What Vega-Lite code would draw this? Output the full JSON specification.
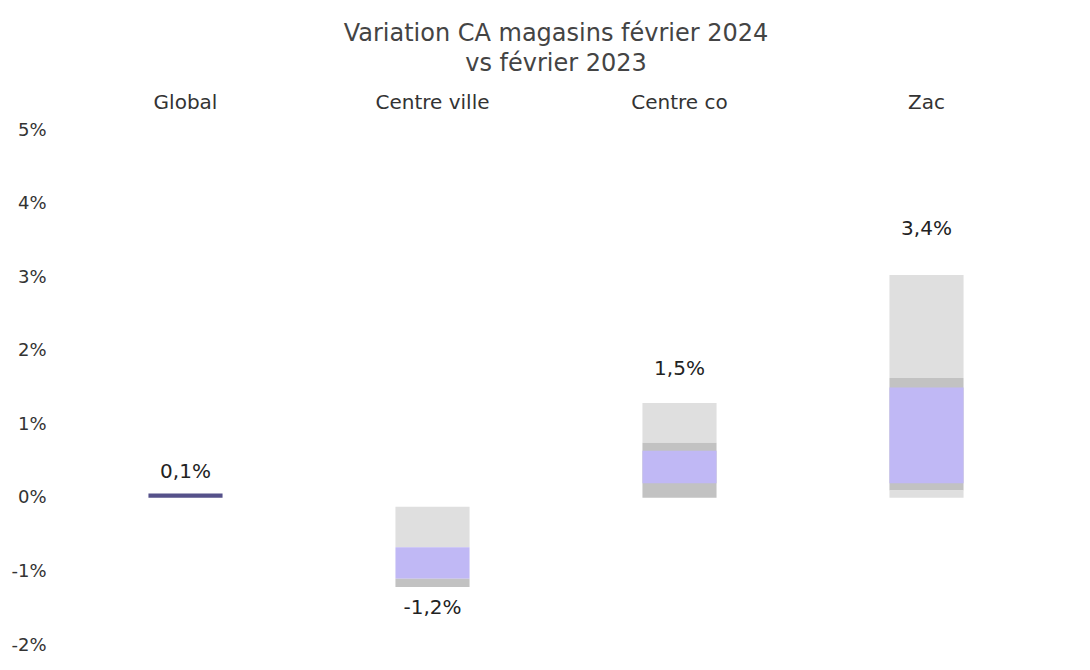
{
  "$schema": "https://vega.github.io/schema/vega-lite/v6.json",
  "width": 988,
  "height": 515,
  "padding": {"left": 10, "top": 22, "right": 0, "bottom": 0},
  "background": "white",
  "title": {
    "text": ["Variation CA magasins février 2024", "vs février 2023"],
    "font": "DejaVu Sans",
    "fontSize": 24,
    "fontWeight": "normal",
    "lineHeight": 30,
    "color": "#444444",
    "offset": 16
  },
  "datasets": {
    "segments": [
      {"zone": "Global", "couche": "fonce", "debut": 0, "fin": 0.0006},
      {"zone": "Centre ville", "couche": "clair", "debut": -0.0012, "fin": -0.0067},
      {"zone": "Centre ville", "couche": "violet", "debut": -0.0067, "fin": -0.011},
      {"zone": "Centre ville", "couche": "gris", "debut": -0.011, "fin": -0.0121},
      {"zone": "Centre co", "couche": "clair", "debut": 0.0129, "fin": 0.0075},
      {"zone": "Centre co", "couche": "gris", "debut": 0.0075, "fin": 0},
      {"zone": "Centre co", "couche": "violet", "debut": 0.0064, "fin": 0.002},
      {"zone": "Zac", "couche": "clair", "debut": 0.0303, "fin": 0.0163},
      {"zone": "Zac", "couche": "gris", "debut": 0.0163, "fin": 0.001},
      {"zone": "Zac", "couche": "clair", "debut": 0.001, "fin": 0},
      {"zone": "Zac", "couche": "violet", "debut": 0.015, "fin": 0.002}
    ],
    "valeurs": [
      {"zone": "Global", "variation": 0.001},
      {"zone": "Centre ville", "variation": -0.012},
      {"zone": "Centre co", "variation": 0.015},
      {"zone": "Zac", "variation": 0.034}
    ]
  },
  "encoding": {
    "x": {
      "field": "zone",
      "type": "nominal",
      "sort": ["Global", "Centre ville", "Centre co", "Zac"],
      "scale": {"paddingInner": 0.7, "paddingOuter": 0.35},
      "axis": {
        "orient": "top",
        "title": null,
        "domain": false,
        "ticks": false,
        "labelAngle": 0,
        "labelPadding": 18,
        "labelFontSize": 20,
        "labelColor": "#333333"
      }
    }
  },
  "layer": [
    {
      "data": {"name": "segments"},
      "mark": {"type": "bar"},
      "encoding": {
        "y": {
          "field": "debut",
          "type": "quantitative",
          "scale": {"domain": [-0.02, 0.05], "nice": false, "zero": false},
          "axis": {
            "title": null,
            "values": [-0.02, -0.01, 0, 0.01, 0.02, 0.03, 0.04, 0.05],
            "format": ".0%",
            "grid": false,
            "domain": false,
            "ticks": false,
            "labelPadding": 16,
            "labelFontSize": 18,
            "labelColor": "#333333"
          }
        },
        "y2": {"field": "fin"},
        "color": {
          "field": "couche",
          "type": "nominal",
          "legend": null,
          "scale": {
            "domain": ["clair", "gris", "violet", "fonce"],
            "range": ["#dfdfdf", "#c2c2c2", "#c0b8f5", "#55518a"]
          }
        }
      }
    },
    {
      "data": {"name": "valeurs"},
      "transform": [{"filter": "datum.variation >= 0"}],
      "mark": {"type": "text", "baseline": "bottom", "dy": -9, "fontSize": 20, "color": "#222222"},
      "encoding": {
        "y": {"field": "variation", "type": "quantitative"},
        "text": {"field": "variation", "type": "quantitative", "format": ".1%"}
      }
    },
    {
      "data": {"name": "valeurs"},
      "transform": [{"filter": "datum.variation < 0"}],
      "mark": {"type": "text", "baseline": "top", "dy": 12, "fontSize": 20, "color": "#222222"},
      "encoding": {
        "y": {"field": "variation", "type": "quantitative"},
        "text": {"field": "variation", "type": "quantitative", "format": ".1%"}
      }
    }
  ],
  "config": {
    "font": "DejaVu Sans",
    "view": {"stroke": null},
    "locale": {
      "number": {
        "decimal": ",",
        "thousands": " ",
        "grouping": [3],
        "currency": ["", " €"],
        "minus": "-",
        "percent": "%"
      }
    }
  }
}
